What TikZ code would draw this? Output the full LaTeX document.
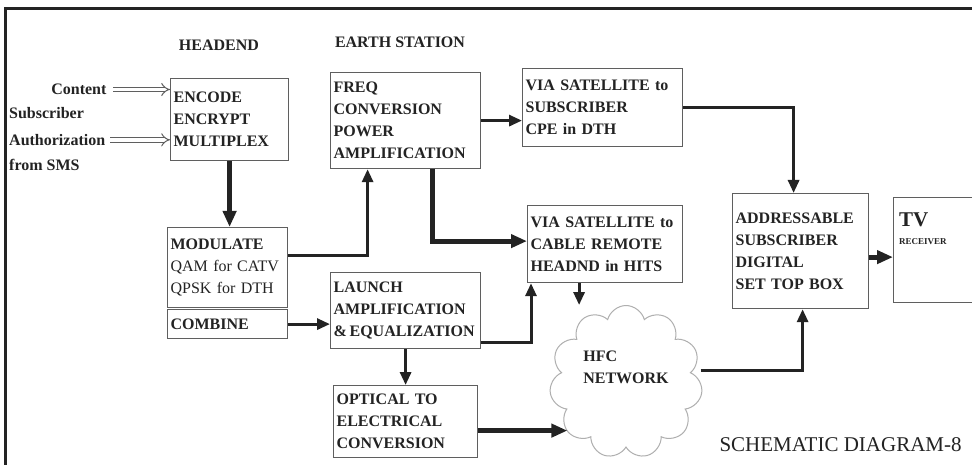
\documentclass[tikz,border=0pt]{standalone}
\usepackage{fontspec}
\setmainfont{Liberation Serif}
\usepackage{tikz}
\usetikzlibrary{
arrows.meta,
positioning,
shapes.symbols
}
\definecolor{inkgray}{RGB}{35,35,35}
\definecolor{boxgray}{RGB}{95,95,95}
\definecolor{cloudgray}{RGB}{175,175,175}

\begin{document}
\begin{tikzpicture}[
  x=1pt, y=-1pt,
  >={Triangle[length=13pt,width=11pt]},
  every node/.style={font=\fontsize{16}{22}\selectfont\bfseries, text=inkgray},
  blk/.style={draw=boxgray, line width=1.2pt, anchor=north west,
              align=left, inner xsep=3pt, inner ysep=2pt},
  arrow/.style={->, line width=3pt, draw=inkgray},
  bigarrow/.style={->, line width=5pt, draw=inkgray,
                   >={Triangle[length=16pt,width=13pt]}},
  hollow/.style={double=white, double distance=3.6pt, line width=1pt,
                 draw=boxgray, -{Implies}}
]
\useasboundingbox (0,0) rectangle (972,465);
\fill[white] (0,0) rectangle (972,465);

%% Frame
\draw[line width=3pt, inkgray] (5,465) -- (5,9) -- (972,9);

%% Section titles
\node (headend) at (219,45) {HEADEND};
\node (earth) at (400,42) {EARTH STATION};

%% Inputs
\node[anchor=east] (content) at (110,89.5) {Content};
\node[anchor=north west, align=left, inner sep=1pt] (auth) at (8,106)
  {Subscriber\\[5pt]Authorization\\[3pt]from SMS};

%% Headend blocks
\node[blk, text width=112pt, minimum height=82pt] (enc) at (170,78)
  {ENCODE\\ENCRYPT\\MULTIPLEX};
\node[blk, text width=114pt, minimum height=80pt] (mod) at (167,227)
  {MODULATE\\{\mdseries QAM for CATV}\\{\mdseries QPSK for DTH}};
\node[blk, text width=114pt, minimum height=29pt] (comb) at (167,309)
  {COMBINE};

%% Earth station blocks
\node[blk, text width=144pt, minimum height=96pt] (freq) at (330,72)
  {FREQ\\CONVERSION\\POWER\\AMPLIFICATION};
\node[blk, text width=144pt, minimum height=76pt] (launch) at (330,272)
  {LAUNCH\\AMPLIFICATION\\\&\,EQUALIZATION};
\node[blk, text width=138pt, minimum height=72pt] (opt) at (333,385)
  {OPTICAL TO\\ELECTRICAL\\CONVERSION};

%% Satellite paths
\node[blk, text width=154pt, minimum height=78pt] (sub) at (522,68)
  {VIA SATELLITE to\\SUBSCRIBER\\CPE in DTH};
\node[blk, text width=149pt, minimum height=77pt] (cab) at (527,205)
  {VIA SATELLITE to\\CABLE REMOTE\\HEADND in HITS};

%% HFC network
\node[cloud, cloud puffs=11, draw=cloudgray, line width=1pt,
      minimum width=150pt, minimum height=118pt, align=left]
  (hfc) at (626,382) {HFC\\NETWORK\\[8pt]};

%% Subscriber side
\node[blk, text width=130pt, minimum height=115pt] (stb) at (732,193)
  {ADDRESSABLE\\SUBSCRIBER\\DIGITAL\\SET TOP BOX};
\node[blk, minimum width=79pt, minimum height=105pt] (tv) at (893,197) {};
\node[anchor=north west, align=left, inner sep=0pt] (tvlbl)
  at ([xshift=6pt,yshift=-16pt]tv.north west)
  {{\fontsize{21}{22}\selectfont TV}\\[-4pt]{\fontsize{9}{10}\selectfont RECEIVER}};

%% Caption
\node[anchor=west, font=\fontsize{21}{24}\selectfont\mdseries] (caption)
  at (716,445) {SCHEMATIC DIAGRAM-8};

%% Input arrows
\draw[hollow] ([xshift=3pt]content.east) -- (content.east -| enc.west);
\draw[hollow] ([xshift=4pt,yshift=-1pt]auth.east) -- ([yshift=-1pt]auth.east -| enc.west);

%% Signal flow
\draw[bigarrow] (enc.south) -- (enc.south |- mod.north);
\draw[arrow] ([yshift=12pt]mod.east) -| ([xshift=-38pt]freq.south);
\draw[arrow] (freq.east) -- (freq.east -| sub.west);
\draw[bigarrow] ([xshift=27pt]freq.south) |- ([yshift=3pt]cab.west);
\draw[arrow] (comb.east) -- (comb.east -| launch.west);
\draw[arrow] ([yshift=-32pt]launch.east) -| ([xshift=4pt]cab.south west);
\draw[arrow] (launch.south) -- (launch.south |- opt.north);
\draw[arrow] ([xshift=-26pt]cab.south) -- ([xshift=-26pt]cab.south |- hfc.north);
\draw[bigarrow, shorten >=-16pt] ([yshift=-9pt]opt.east) -- ([yshift=-9pt]opt.east -| hfc.west);
\draw[arrow] ([yshift=12pt]hfc.east) -| ([xshift=2pt]stb.south);
\draw[arrow] (sub.east) -| ([xshift=-7pt]stb.north);
\draw[bigarrow] ([yshift=-6pt]stb.east) -- ([yshift=-6pt]stb.east -| tv.west);

\end{tikzpicture}
\end{document}
